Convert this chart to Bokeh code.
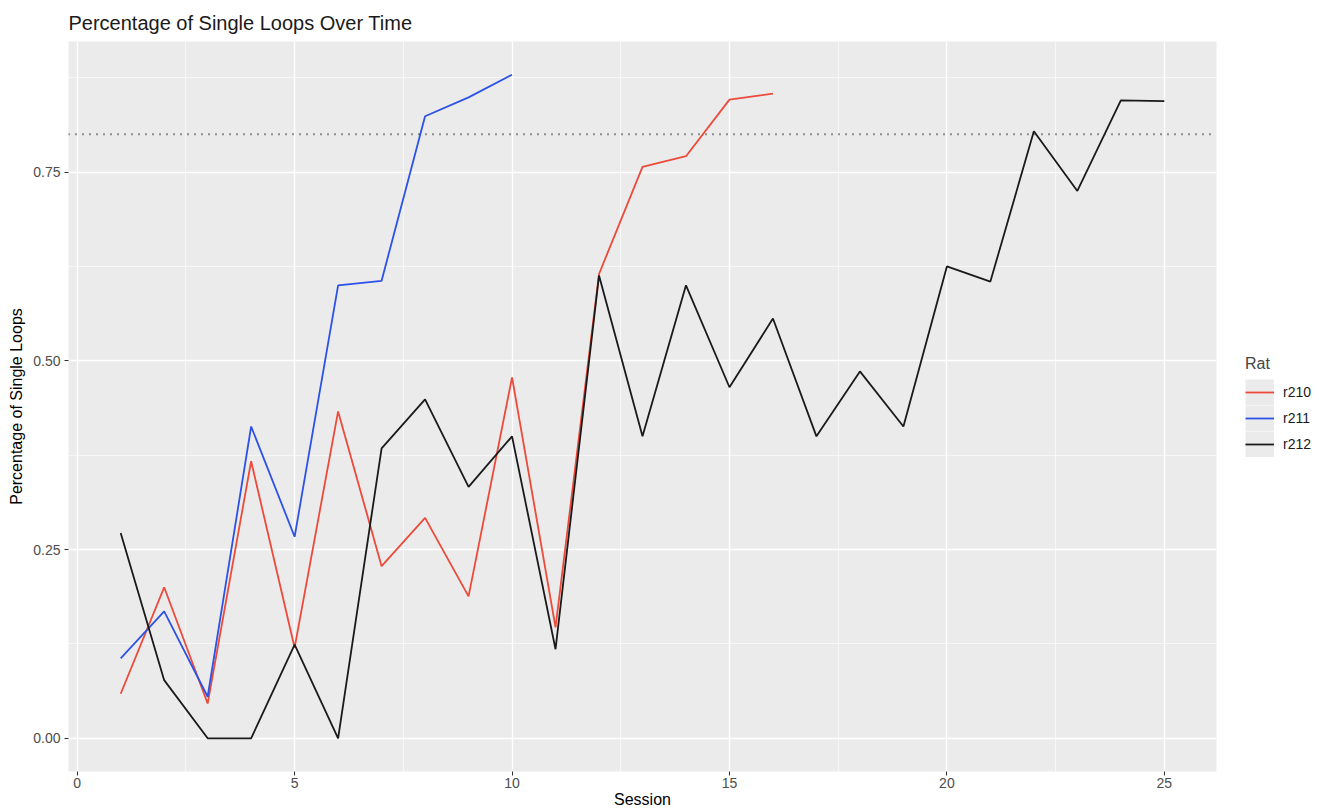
from bokeh.plotting import figure
from bokeh.models import (FixedTicker, NumeralTickFormatter, Span, Legend, LegendItem,
                          Range1d)
from bokeh.embed import file_html
from bokeh.resources import INLINE

# ---- data ----
sessions_r210 = list(range(1, 17))
r210 = [0.059, 0.200, 0.046, 0.367, 0.120, 0.433, 0.228, 0.292, 0.188, 0.478,
        0.147, 0.615, 0.757, 0.771, 0.846, 0.854]
sessions_r211 = list(range(1, 11))
r211 = [0.106, 0.168, 0.055, 0.413, 0.267, 0.600, 0.606, 0.824, 0.849, 0.879]
sessions_r212 = list(range(1, 26))
r212 = [0.272, 0.077, 0.0, 0.0, 0.124, 0.0, 0.384, 0.449, 0.333, 0.400,
        0.118, 0.613, 0.400, 0.600, 0.465, 0.556, 0.400, 0.486, 0.413, 0.625,
        0.605, 0.804, 0.725, 0.845, 0.844]
threshold = 0.8
rat_names = ["r210", "r211", "r212"]
rat_colors = ["#EC4A3A", "#2D52E6", "#1A1A1A"]
x_ticks = [0, 5, 10, 15, 20, 25]
x_minor = [2.5, 7.5, 12.5, 17.5, 22.5]
y_ticks = [0.0, 0.25, 0.5, 0.75]
y_minor = [0.125, 0.375, 0.625, 0.875]

FONT = "Liberation Sans"

p = figure(frame_width=1148, frame_height=730, output_backend="svg", toolbar_location=None,
           x_range=Range1d(-0.2, 26.2), y_range=Range1d(-0.044, 0.923),
           min_border_left=68, min_border_right=10, min_border_top=41, min_border_bottom=30,
           background_fill_color="#EBEBEB", border_fill_color="white")
p.outline_line_color = None

p.title.text = "Percentage of Single Loops Over Time"
p.title.text_font = FONT
p.title.text_font_size = "20px"
p.title.text_font_style = "normal"
p.title.text_color = "#1a1a1a"
p.title.align = "left"
p.title.vertical_align = "top"
p.title.offset = 0
p.title.standoff = 12

p.xaxis.ticker = FixedTicker(ticks=x_ticks, minor_ticks=x_minor)
p.yaxis.ticker = FixedTicker(ticks=y_ticks, minor_ticks=y_minor)
p.yaxis.formatter = NumeralTickFormatter(format="0.00")

for ax in (p.xaxis, p.yaxis):
    ax.axis_line_color = None
    ax.major_tick_line_color = "#333333"
    ax.major_tick_in = 0
    ax.major_tick_out = 4
    ax.minor_tick_line_color = None
    ax.major_label_text_font = FONT
    ax.major_label_text_font_size = "14px"
    ax.major_label_text_color = "#4D4D4D"
    ax.axis_label_text_font = FONT
    ax.axis_label_text_font_size = "16px"
    ax.axis_label_text_font_style = "normal"
    ax.axis_label_text_color = "black"

p.xaxis.axis_label = "Session"
p.xaxis.axis_label_standoff = 0
p.xaxis.major_label_standoff = 2
p.yaxis.axis_label = "Percentage of Single Loops"
p.yaxis.axis_label_standoff = 5
p.yaxis.major_label_standoff = 4

for g in (p.xgrid, p.ygrid):
    g.grid_line_color = "white"
    g.grid_line_width = 1.4
    g.minor_grid_line_color = "white"
    g.minor_grid_line_width = 0.6

span = Span(location=threshold, dimension="width", line_color="#333333",
            line_dash="1 6", line_width=2)
p.add_layout(span)

xs = [sessions_r210, sessions_r211, sessions_r212]
ys = [r210, r211, r212]
items = []
for name, col, x, y in zip(rat_names, rat_colors, xs, ys):
    # legend key background helper (kept outside the visible range)
    bg = p.line(x=[-100, -99], y=[-100, -100], line_color="#EBEBEB",
                line_width=26, line_cap="butt")
    r = p.line(x=x, y=y, line_color=col, line_width=1.8)
    items.append(LegendItem(label=name, renderers=[bg, r]))

legend = Legend(items=items, title="Rat", location="center_left", spacing=0,
                glyph_width=29, glyph_height=26, label_standoff=9,
                label_text_font=FONT, label_text_font_size="14px",
                label_text_color="#1a1a1a",
                title_text_font=FONT, title_text_font_size="16px",
                title_text_font_style="normal", title_standoff=6,
                border_line_color=None, background_fill_color="white",
                padding=0, margin=0)
legend.margin = 29
p.add_layout(legend, "right")

open("out.html", "w").write(file_html(p, INLINE))
